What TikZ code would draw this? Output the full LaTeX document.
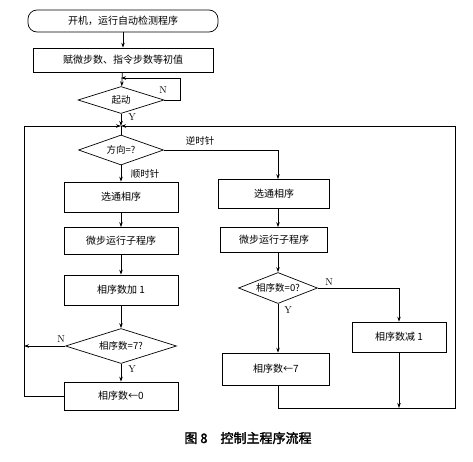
\documentclass[tikz,border=0pt]{standalone}
\usepackage{fontspec}
\newfontfamily\cjk[AutoFakeBold=2]{Noto Sans CJK SC}
\usetikzlibrary{arrows.meta,shapes.geometric}

\begin{document}
\begin{tikzpicture}[x=1pt,y=-1pt,line width=.7pt,
	>={Stealth[length=5pt,width=3.5pt]},
	box/.style={draw,rectangle,inner sep=0,minimum width=#1,font=\cjk\fontsize{10}{12}\selectfont},
	test/.style={draw,diamond,aspect=3,inner sep=0,font=\cjk\fontsize{9.5}{11}\selectfont},
	lab/.style={font=\fontsize{10}{12}\selectfont}]
	\useasboundingbox (0,0) rectangle (473,461);
	% top part
	\node[box=190,minimum height=22,rounded corners=9pt] (start) at (123,21) {开机，运行自动检测程序};
	\node[box=180,minimum height=24] (init) at (123,60) {赋微步数、指令步数等初值};
	\node[test,minimum width=86,minimum height=27] (qstart) at (121,100) {起动};
	\path
	(180,100) coordinate (N1)
	(180,78) coordinate (N2)
	(121,78) coordinate (N3)
	(121,126) coordinate (J)
	;
	\node[test,minimum width=85,minimum height=30] (qdir) at (121,150) {方向=?};
	% left branch
	\node[box=114,minimum height=30] (selL) at (121,197) {选通相序};
	\node[box=114,minimum height=27] (microL) at (121,241) {微步运行子程序};
	\node[box=114,minimum height=30] (incL) at (121,290) {相序数加 1};
	\node[test,minimum width=111,minimum height=35] (q7) at (121,346) {相序数=7?};
	\node[box=114,minimum height=28] (zeroL) at (121,396) {相序数←0};
	% right branch
	\node[box=111,minimum height=29] (selR) at (274,194) {选通相序};
	\node[box=107,minimum height=25] (microR) at (274,240) {微步运行子程序};
	\node[test,minimum width=79,minimum height=31] (q0) at (278,288) {相序数=0?};
	\node[box=94,minimum height=30] (decR) at (399,337) {相序数减 1};
	\node[box=107,minimum height=32] (sevenR) at (276,369) {相序数←7};
	\path
	(24,396) coordinate (LB)
	(24,346) coordinate (LN)
	(24,126) coordinate (LT)
	(278,150) coordinate (RC)
	(399,288) coordinate (DN)
	(399,408) coordinate (DB)
	(278,408) coordinate (SB)
	(455,408) coordinate (RB)
	(455,126) coordinate (RT)
	;
	\draw[->] (start) -- (init);
	\draw[->] (init) -- (qstart);
	\draw[->] (qstart.east) -- (N1) -- (N2) -- (N3);
	\draw[->] (qstart) -- (J);
	\draw (J) -- (qdir);
	\draw[->] (zeroL.west) -- (LB) -- (LT) -- (J);
	\draw[->] (sevenR.south -| SB) -- (SB) -- (RB) -- (RT) -- (J);
	\draw[->] (q7.west) -- (LN);
	\draw[->] (qdir.east) -- (RC) -- (RC |- selR.north);
	\draw[->] (qdir) -- (selL);
	\draw[->] (selL) -- (microL);
	\draw[->] (microL) -- (incL);
	\draw[->] (incL) -- (q7);
	\draw[->] (q7) -- (zeroL);
	\draw[->] (selR.south -| RC) -- (microR.north -| RC);
	\draw[->] (microR.south -| RC) -- (q0);
	\draw[->] (q0) -- (sevenR.north -| q0);
	\draw[->] (q0.east) -- (DN) -- (decR);
	\draw[->] (decR) -- (DB);
	% labels
	\node[lab] (lN1) at (163,90) {N};
	\node[lab] (lY1) at (132,117) {Y};
	\node[lab,font=\cjk\fontsize{9.5}{11}\selectfont] (lccw) at (200,141) {逆时针};
	\node[lab,font=\cjk\fontsize{9.5}{11}\selectfont] (lcw) at (145,174) {顺时针};
	\node[lab] (lN7) at (61,339) {N};
	\node[lab] (lY7) at (132,369) {Y};
	\node[lab] (lN0) at (329,282) {N};
	\node[lab] (lY0) at (288,310) {Y};
	\node[font=\cjk\bfseries\fontsize{13}{15}\selectfont] (cap) at (248,438) {图 8\enspace\enspace 控制主程序流程};
\end{tikzpicture}
\end{document}
